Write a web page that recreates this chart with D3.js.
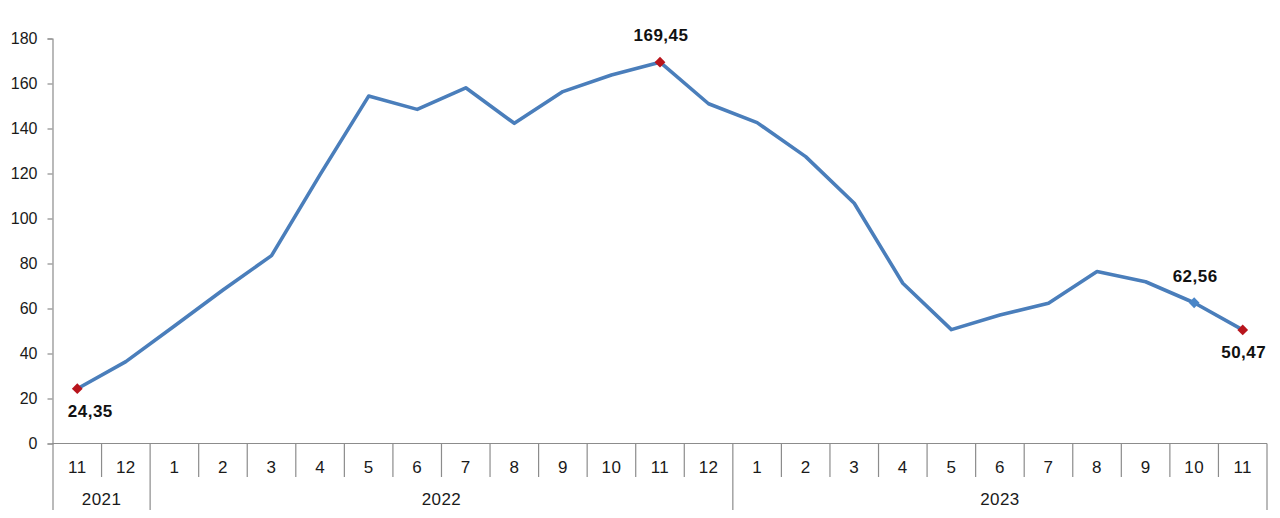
<!DOCTYPE html>
<html>
<head>
<meta charset="utf-8">
<script src="https://cdn.jsdelivr.net/npm/d3@7"></script>
<style>
  body { margin: 0; background: #fff; }
  svg { display: block; font-family: "Liberation Sans", Arial, sans-serif; }
</style>
</head>
<body>
<script>
// monthly values, 11/2021 .. 11/2023
var months = ["11", "12", "1", "2", "3", "4", "5", "6", "7", "8", "9", "10", "11", "12",
              "1", "2", "3", "4", "5", "6", "7", "8", "9", "10", "11"];
var years = ["2021", "2021",
             "2022", "2022", "2022", "2022", "2022", "2022", "2022", "2022", "2022", "2022", "2022", "2022",
             "2023", "2023", "2023", "2023", "2023", "2023", "2023", "2023", "2023", "2023", "2023"];
var values = [24.35, 36.4, 52.2, 68.2, 83.5, 119.5, 154.4, 148.5, 158.1, 142.3, 156.4, 163.8, 169.45,
              151.0, 142.6, 127.5, 106.8, 71.2, 50.6, 57.1, 62.3, 76.4, 71.9, 62.56, 50.47];
var yTicks = [0, 20, 40, 60, 80, 100, 120, 140, 160, 180];
// points that get a marker and a value label
var marked = [0, 12, 23, 24];

// plot area (window.top is reserved, so use a margin object)
var W = 1280, H = 518;
var plot = {left: 53, right: 1267, top: 38.5, bottom: 443.5};

var svg = d3.select("body").append("svg")
    .attr("width", W)
    .attr("height", H);

var keys = months.map(function(m, i) { return i; });

var x = d3.scaleBand()
    .domain(keys)
    .range([plot.left, plot.right])
    .padding(0);
var y = d3.scaleLinear()
    .domain([0, 180])
    .range([plot.bottom, plot.top]);

var axisColor = "#8c8c8c";

// y axis
var yAxis = svg.append("g")
    .attr("transform", "translate(" + (plot.left - 0.5) + ",0)")
    .call(d3.axisLeft(y).tickValues(yTicks).tickSize(5).tickPadding(10));
yAxis.select(".domain").attr("stroke", axisColor).attr("stroke-width", 1.2);
yAxis.selectAll(".tick line").attr("stroke", axisColor).attr("stroke-width", 1.2);
yAxis.selectAll("text")
    .attr("fill", "#1a1a1a")
    .style("font-size", "16px")
    .style("font-family", "'Liberation Sans', Arial, sans-serif");

// x axis baseline
svg.append("line")
    .attr("x1", plot.left - 0.5).attr("x2", plot.right)
    .attr("y1", plot.bottom).attr("y2", plot.bottom)
    .attr("stroke", axisColor).attr("stroke-width", 1.2);

// month separators, longer where the year changes
var monthRow = 477, yearRow = 510;
var bounds = keys.map(function(k) { return x(k); }).concat([plot.right]);
svg.append("g").selectAll("line")
    .data(bounds)
    .enter().append("line")
    .attr("x1", function(d) { return d; })
    .attr("x2", function(d) { return d; })
    .attr("y1", plot.bottom)
    .attr("y2", function(d, i) {
        var isYearEdge = i == 0 || i == bounds.length - 1 || years[i] != years[i - 1];
        return isYearEdge ? yearRow : monthRow;
    })
    .attr("stroke", axisColor)
    .attr("stroke-width", 1.2);

// month labels
svg.append("g").selectAll("text")
    .data(months)
    .enter().append("text")
    .attr("x", function(d, i) { return x(i) + x.bandwidth() / 2; })
    .attr("y", 473)
    .attr("text-anchor", "middle")
    .attr("fill", "#1a1a1a")
    .style("font-size", "17px")
    .style("letter-spacing", "0.4px")
    .text(function(d) { return d; });

// year labels, centered on their group of months
var groups = [];
years.forEach(function(yr, i) {
    var g = groups[groups.length - 1];
    if (!g || g.year != yr) groups.push({ year: yr, first: i, last: i });
    else g.last = i;
});
svg.append("g").selectAll("text")
    .data(groups)
    .enter().append("text")
    .attr("x", function(g) { return (x(g.first) + x(g.last) + x.bandwidth()) / 2; })
    .attr("y", 505)
    .attr("text-anchor", "middle")
    .attr("fill", "#1a1a1a")
    .style("font-size", "17px")
    .style("letter-spacing", "0.4px")
    .text(function(g) { return g.year; });

// the line
var line = d3.line()
    .x(function(d, i) { return x(i) + x.bandwidth() / 2; })
    .y(function(d) { return y(d); });

svg.append("path")
    .datum(values)
    .attr("fill", "none")
    .attr("stroke", "#4a7ebb")
    .attr("stroke-width", 3.6)
    .attr("stroke-linejoin", "round")
    .attr("d", line);

// markers
var diamond = d3.symbol().type(d3.symbolSquare).size(58);
svg.append("g").selectAll("path")
    .data(marked)
    .enter().append("path")
    .attr("d", diamond)
    .attr("transform", function(i) {
        return "translate(" + (x(i) + x.bandwidth() / 2) + "," + y(values[i]) + ") rotate(45)";
    })
    .attr("fill", function(i) { return i == values.length - 2 ? "#4a86c8" : "#b8141c"; });

// value labels: first and last below, others above
function fmt(v) { return v.toFixed(2).replace(".", ","); }
svg.append("g").selectAll("text")
    .data(marked)
    .enter().append("text")
    .attr("x", function(i) { return x(i) + x.bandwidth() / 2 + (i == 0 ? 13 : 1); })
    .attr("y", function(i) {
        var below = i == 0 || i == values.length - 1;
        return y(values[i]) + (below ? 28 : -21);
    })
    .attr("text-anchor", "middle")
    .attr("fill", "#111")
    .style("font-size", "17px")
    .style("letter-spacing", "0.5px")
    .style("font-weight", "bold")
    .text(function(i) { return fmt(values[i]); });
</script>
</body>
</html>
